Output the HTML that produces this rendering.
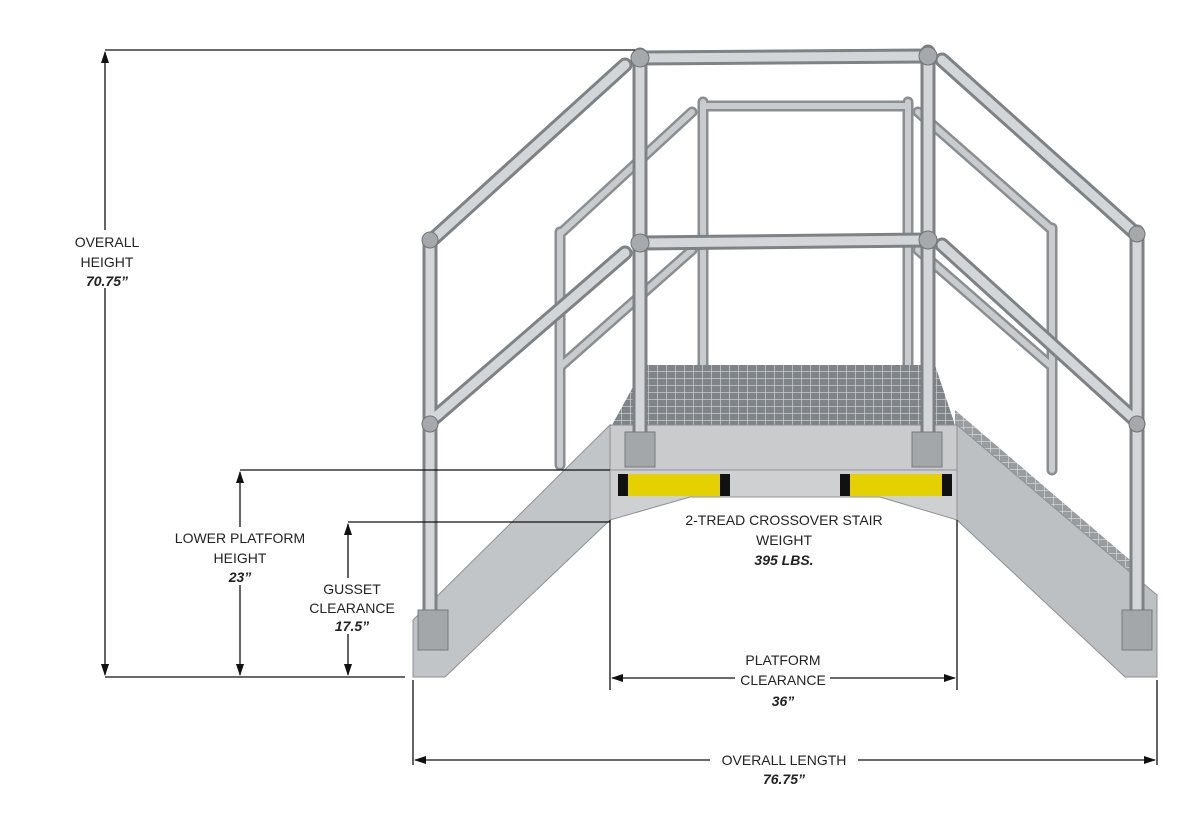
<!DOCTYPE html>
<html><head><meta charset="utf-8"><style>
html,body{margin:0;padding:0;background:#fff;}
svg{display:block}
text{font-family:"Liberation Sans",sans-serif;font-size:14px;fill:#222;text-anchor:middle}
.b{font-weight:bold;font-style:italic}
</style></head><body>
<svg width="1200" height="815" viewBox="0 0 1200 815">
<defs>
<marker id="a" markerWidth="12" markerHeight="8" refX="11" refY="4" orient="auto-start-reverse" markerUnits="userSpaceOnUse"><path d="M0,0 L12,4 L0,8 z" fill="#111"/></marker>
<pattern id="g" width="9" height="7" patternUnits="userSpaceOnUse"><rect width="9" height="7" fill="#7f8488"/><path d="M0,0H9M0,0V7" stroke="#c8cbce" stroke-width="1.5"/></pattern>
<g id="back">
<line x1="560" y1="232" x2="560" y2="465"/><line x1="703" y1="102" x2="703" y2="365"/>
<line x1="908" y1="102" x2="908" y2="365"/><line x1="1052" y1="228" x2="1052" y2="470"/>
<line x1="703" y1="106" x2="908" y2="106"/>
<line x1="562" y1="232" x2="692" y2="112"/><line x1="562" y1="365" x2="692" y2="250"/>
<line x1="918" y1="112" x2="1050" y2="228"/><line x1="918" y1="250" x2="1050" y2="365"/>
</g>
<g id="front">
<line x1="430" y1="240" x2="430" y2="640"/><line x1="640" y1="55" x2="640" y2="440"/>
<line x1="928" y1="52" x2="928" y2="440"/><line x1="1137" y1="232" x2="1137" y2="640"/>
<line x1="640" y1="58" x2="928" y2="56"/><line x1="640" y1="243" x2="928" y2="240"/>
<line x1="432" y1="240" x2="625" y2="65"/><line x1="432" y1="420" x2="625" y2="253"/>
<line x1="942" y1="60" x2="1135" y2="233"/><line x1="942" y1="245" x2="1135" y2="420"/>
</g>
</defs>
<g stroke="#8a8e91" stroke-width="11" stroke-linecap="round" fill="none"><use href="#back"/></g>
<g stroke="#c9ccce" stroke-width="6" stroke-linecap="round" fill="none"><use href="#back"/></g>
<polygon points="645,365 935,365 955,425 612,425" fill="url(#g)"/>
<polygon points="955,425 1130,580 1130,560 955,410" fill="url(#g)" opacity=".8"/>
<polygon points="413,620 610,425 610,520 445,677 413,677" fill="#c2c5c7" stroke="#8d9194"/>
<polygon points="957,425 1157,595 1157,677 1125,677 957,520" fill="#bdc0c2" stroke="#8d9194"/>
<rect x="610" y="425" width="347" height="45" fill="#c9cbcd" stroke="#8d9194"/>
<polygon points="610,470 957,470 957,520 880,497 690,497 610,520" fill="#ced0d1" stroke="#8d9194"/>
<rect x="618" y="474" width="112" height="22" fill="#e6d100"/><rect x="618" y="474" width="10" height="22" fill="#111"/><rect x="720" y="474" width="10" height="22" fill="#111"/>
<rect x="840" y="474" width="112" height="22" fill="#e6d100"/><rect x="840" y="474" width="10" height="22" fill="#111"/><rect x="942" y="474" width="10" height="22" fill="#111"/>
<g stroke="#7e8285" stroke-width="15" stroke-linecap="round" fill="none"><use href="#front"/></g>
<g stroke="#d3d6d8" stroke-width="9" stroke-linecap="round" fill="none"><use href="#front"/></g>
<g fill="#a5a9ac" stroke="#6f7376"><circle cx="640" cy="58" r="9"/><circle cx="928" cy="56" r="9"/><circle cx="640" cy="243" r="9"/><circle cx="928" cy="240" r="9"/><circle cx="430" cy="240" r="8"/><circle cx="1137" cy="234" r="8"/><circle cx="430" cy="424" r="8"/><circle cx="1137" cy="424" r="8"/></g>
<g fill="#a3a7aa" stroke="#777b7e"><rect x="418" y="610" width="30" height="40"/><rect x="1122" y="610" width="30" height="40"/><rect x="625" y="432" width="30" height="35"/><rect x="912" y="432" width="30" height="35"/></g>
<g stroke="#111" stroke-width="1.3" fill="none">
<line x1="105" y1="50" x2="635" y2="50"/><line x1="105" y1="677" x2="405" y2="677"/>
<line x1="105" y1="52" x2="105" y2="675" marker-start="url(#a)" marker-end="url(#a)"/>
<line x1="240" y1="470" x2="610" y2="470"/>
<line x1="240" y1="472" x2="240" y2="675" marker-start="url(#a)" marker-end="url(#a)"/>
<line x1="348" y1="522" x2="610" y2="522"/>
<line x1="348" y1="524" x2="348" y2="675" marker-start="url(#a)" marker-end="url(#a)"/>
<line x1="610" y1="520" x2="610" y2="690"/><line x1="957" y1="520" x2="957" y2="690"/>
<line x1="612" y1="678" x2="955" y2="678" marker-start="url(#a)" marker-end="url(#a)"/>
<line x1="413" y1="680" x2="413" y2="765"/><line x1="1157" y1="680" x2="1157" y2="765"/>
<line x1="415" y1="760" x2="1155" y2="760" marker-start="url(#a)" marker-end="url(#a)"/>
</g>
<g fill="#fff"><rect x="65" y="230" width="85" height="58"/><rect x="165" y="527" width="150" height="58"/><rect x="312" y="578" width="82" height="56"/><rect x="735" y="650" width="95" height="58"/><rect x="710" y="750" width="148" height="38"/></g>
<text x="107" y="247">OVERALL</text><text x="107" y="267">HEIGHT</text><text x="107" y="286" class="b">70.75”</text>
<text x="240" y="543">LOWER PLATFORM</text><text x="240" y="563">HEIGHT</text><text x="240" y="582" class="b">23”</text>
<text x="352" y="594">GUSSET</text><text x="352" y="613">CLEARANCE</text><text x="352" y="631" class="b">17.5”</text>
<text x="784" y="525">2-TREAD CROSSOVER STAIR</text><text x="784" y="545">WEIGHT</text><text x="784" y="565" class="b">395 LBS.</text>
<text x="783" y="665">PLATFORM</text><text x="783" y="685">CLEARANCE</text><text x="783" y="706" class="b">36”</text>
<text x="784" y="765">OVERALL LENGTH</text><text x="784" y="784" class="b">76.75”</text>
</svg>
</body></html>
